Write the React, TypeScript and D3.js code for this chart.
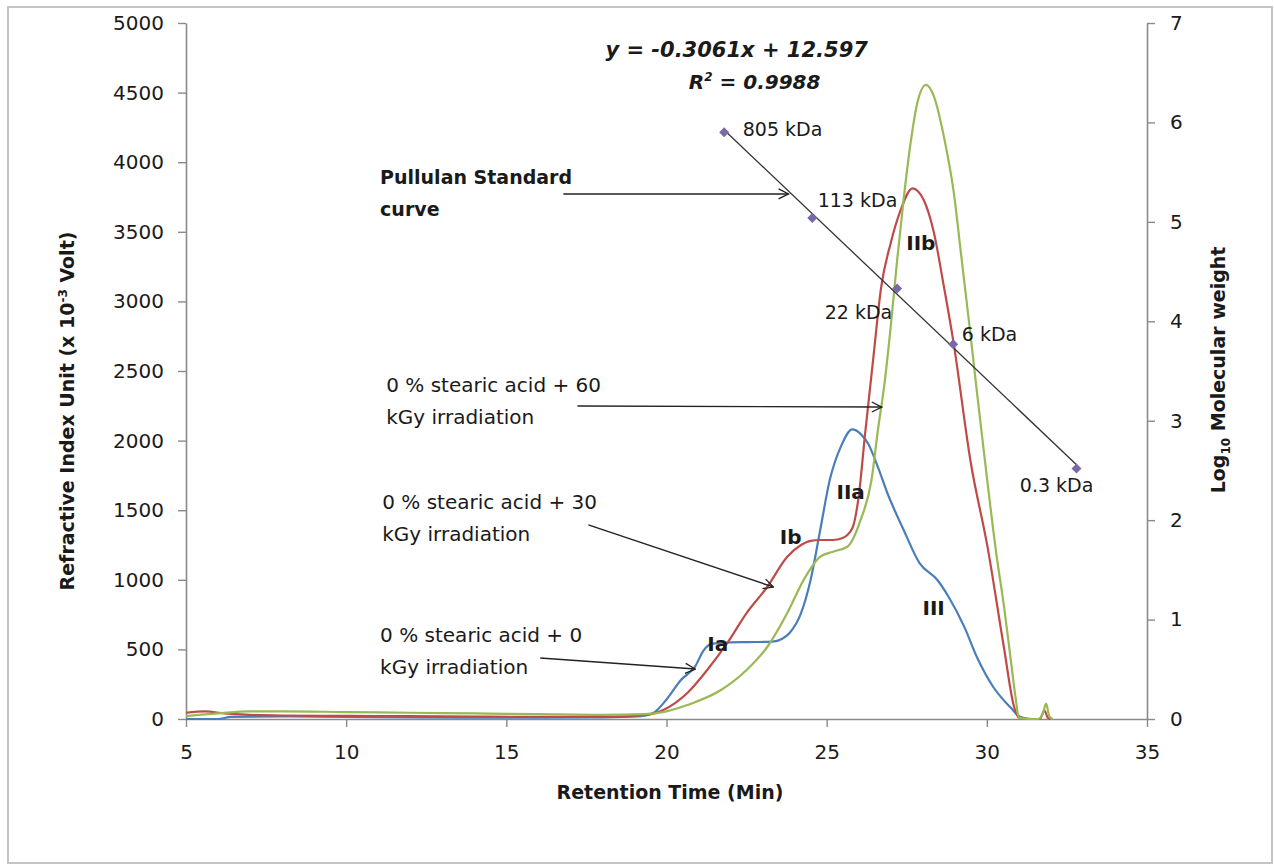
import { useEffect, useRef } from 'react'
import * as d3 from 'd3'

const W = 1274, H = 865
const PLOT = { left: 186, right: 1147, top: 23, bottom: 719 }
const FONT = "'DejaVu Sans', 'Liberation Sans', sans-serif"

const X_TICKS = [5, 10, 15, 20, 25, 30, 35]
const RI_TICKS = [0, 500, 1000, 1500, 2000, 2500, 3000, 3500, 4000, 4500, 5000]
const LOG_TICKS = [0, 1, 2, 3, 4, 5, 6, 7]

// retention time (min) / RI response (x 10^-3 V)
const T_0KGY = [5, 6, 6.4, 8, 10, 12, 14, 16, 18, 19.2, 19.6, 20.0, 20.45, 20.9, 21.15, 21.4, 21.8, 22.3, 22.8, 23.3, 23.6, 23.85, 24.2, 24.5, 24.8, 25.1, 25.45, 25.8, 26.05, 26.3, 26.6, 26.9, 27.4, 27.9, 28.45, 28.8, 29.3, 29.7, 30.2, 30.75, 31.0, 31.2, 31.45]
const RI_0KGY = [0, 0, 15, 18, 15, 12, 10, 10, 12, 20, 45, 140, 280, 380, 490, 540, 548, 552, 553, 556, 575, 620, 760, 1000, 1360, 1720, 1960, 2080, 2050, 1975, 1810, 1620, 1360, 1120, 1000, 880, 660, 440, 230, 80, 20, 5, 0]

const T_30KGY = [5, 5.6, 6.2, 7, 8, 10, 12, 14, 16, 18, 19.2, 19.9, 20.65, 21.27, 21.9, 22.5, 23.15, 23.77, 24.2, 24.5, 24.8, 25.2, 25.5, 25.8, 26.0, 26.2, 26.45, 26.7, 27.0, 27.3, 27.68, 28.03, 28.35, 28.66, 28.95, 29.5, 30.02, 30.53, 30.85, 31.0, 31.3, 31.65, 31.8, 31.9, 32.0]
const RI_30KGY = [45, 55, 40, 30, 25, 22, 20, 18, 15, 15, 25, 65, 187, 352, 546, 761, 950, 1166, 1250, 1280, 1286, 1286, 1300, 1370, 1600, 2050, 2580, 3100, 3420, 3650, 3812, 3728, 3491, 3106, 2720, 1839, 1238, 519, 88, 10, 0, 0, 60, 10, 0]

const T_60KGY = [5, 6, 7, 8, 10, 12, 14, 16, 18, 19.3, 20, 20.65, 21.7, 22.5, 23.15, 23.77, 24.28, 24.8, 25.2, 25.65, 26.06, 26.4, 26.6, 26.8, 27.0, 27.2, 27.4, 27.62, 27.83, 28.1, 28.35, 28.66, 28.97, 29.2, 29.45, 29.7, 30.0, 30.3, 30.53, 30.75, 30.9, 31.0, 31.3, 31.6, 31.75, 31.85, 31.95, 32.05]
const RI_60KGY = [20, 40, 55, 55, 50, 45, 40, 35, 30, 35, 55, 100, 208, 352, 519, 761, 998, 1166, 1202, 1238, 1430, 1717, 2076, 2400, 2818, 3297, 3728, 4138, 4425, 4555, 4471, 4183, 3779, 3330, 2840, 2330, 1740, 1180, 820, 420, 150, 10, 0, 0, 40, 110, 20, 0]

// pullulan standards: retention time vs log10 MW
const STD_TIME = [21.8, 24.55, 27.2, 28.95, 32.8]
const STD_LOGMW = [5.9, 5.04, 4.33, 3.77, 2.52]
const STD_LABELS = ['805 kDa', '113 kDa', '22 kDa', '6 kDa', '0.3 kDa']
const FIT_SLOPE = -0.3061, FIT_INTERCEPT = 12.597

const SERIES = [
  { t: T_0KGY, ri: RI_0KGY, color: '#4a7ebb' },
  { t: T_30KGY, ri: RI_30KGY, color: '#be4b48' },
  { t: T_60KGY, ri: RI_60KGY, color: '#98b954' },
]

// annotation anchors in data units (min, RI)
const STD_LABEL_POS = [[22.38, 4190], [24.72, 3680], [24.94, 2875], [29.22, 2715], [31.03, 1630]]
const PEAK_LABELS = [
  { text: 'Ia', t: 21.6, ri: 539 },
  { text: 'Ib', t: 23.875, ri: 1307 },
  { text: 'IIa', t: 25.75, ri: 1631 },
  { text: 'IIb', t: 27.94, ri: 3420 },
  { text: 'III', t: 28.34, ri: 797 },
]
const CALLOUTS = [
  { lines: ['Pullulan Standard', 'curve'], bold: true, t: 11.06, ri: 3843, from: [16.78, 3772], to: [23.81, 3772] },
  { lines: ['0 % stearic acid + 60', 'kGy irradiation'], bold: false, t: 11.25, ri: 2349, from: [17.22, 2249], to: [26.72, 2241] },
  { lines: ['0 % stearic acid + 30', 'kGy irradiation'], bold: false, t: 11.125, ri: 1509, from: [17.56, 1394], to: [23.34, 948] },
  { lines: ['0 % stearic acid + 0', 'kGy irradiation'], bold: false, t: 11.06, ri: 553, from: [16.06, 438], to: [20.9, 359] },
]

export default function App() {
  const svgRef = useRef<SVGSVGElement>(null)

  useEffect(() => {
    const x = d3.scaleLinear([5, 35], [PLOT.left, PLOT.right])
    const y = d3.scaleLinear([0, 5000], [PLOT.bottom, PLOT.top])
    const y2 = d3.scaleLinear([0, 7], [PLOT.bottom, PLOT.top])

    const svg = d3.select(svgRef.current)
    svg.selectAll('*').remove()

    svg.append('rect').attr('x', 0).attr('y', 0).attr('width', W).attr('height', H).attr('fill', '#fff')
    svg.append('rect').attr('x', 8).attr('y', 7).attr('width', 1264).attr('height', 856)
      .attr('fill', 'none').attr('stroke', '#c4c4c4').attr('stroke-width', 2)

    svg.append('defs').append('marker')
      .attr('id', 'arrow').attr('viewBox', '0 0 12 12').attr('refX', 11).attr('refY', 6)
      .attr('markerWidth', 12).attr('markerHeight', 12).attr('markerUnits', 'userSpaceOnUse')
      .attr('orient', 'auto')
      .append('path').attr('d', 'M1,1 L11,6 L1,11').attr('fill', 'none').attr('stroke', '#222').attr('stroke-width', 1.3)

    const styleAxis = (g: any) => {
      g.select('.domain').attr('stroke', '#8a8a8a').attr('stroke-width', 1.6)
      g.selectAll('.tick line').attr('stroke', '#8a8a8a').attr('stroke-width', 1.4)
      g.selectAll('.tick text').attr('fill', '#1a1a1a').attr('font-size', 20).attr('font-family', FONT)
    }
    const fmt = d3.format('d')

    svg.append('g').attr('transform', `translate(${PLOT.left},0)`)
      .call(d3.axisLeft(y).tickValues(RI_TICKS).tickFormat(fmt).tickSize(8).tickSizeOuter(0).tickPadding(14))
      .call(styleAxis)
    svg.append('g').attr('transform', `translate(${PLOT.right},0)`)
      .call(d3.axisRight(y2).tickValues(LOG_TICKS).tickFormat(fmt).tickSize(8).tickSizeOuter(0).tickPadding(15))
      .call(styleAxis)
    svg.append('g').attr('transform', `translate(0,${PLOT.bottom})`)
      .call(d3.axisBottom(x).tickValues(X_TICKS).tickFormat(fmt).tickSize(8).tickSizeOuter(0).tickPadding(18))
      .call(styleAxis)

    // axis titles
    const lt = svg.append('text').attr('transform', 'translate(74,411) rotate(-90)')
      .attr('text-anchor', 'middle').attr('font-family', FONT).attr('font-weight', 'bold').attr('font-size', 19).attr('fill', '#1a1a1a')
    lt.append('tspan').text('Refractive Index Unit (x 10')
    lt.append('tspan').attr('dy', -7).attr('font-size', 12).text('-3')
    lt.append('tspan').attr('dy', 7).text(' Volt)')

    const rt = svg.append('text').attr('transform', 'translate(1225,370) rotate(-90)')
      .attr('text-anchor', 'middle').attr('font-family', FONT).attr('font-weight', 'bold').attr('font-size', 19).attr('fill', '#1a1a1a')
    rt.append('tspan').text('Log')
    rt.append('tspan').attr('dy', 5).attr('font-size', 12).text('10')
    rt.append('tspan').attr('dy', -5).text(' Molecular weight')

    svg.append('text').attr('x', 670).attr('y', 799).attr('text-anchor', 'middle')
      .attr('font-family', FONT).attr('font-weight', 'bold').attr('font-size', 19).attr('fill', '#1a1a1a')
      .text('Retention Time (Min)')

    // chromatograms
    const line = d3.line<number>().curve(d3.curveMonotoneX)
    SERIES.forEach(s => {
      svg.append('path')
        .datum(d3.range(s.t.length))
        .attr('d', line.x(i => x(s.t[i])).y(i => y(s.ri[i])))
        .attr('fill', 'none').attr('stroke', s.color).attr('stroke-width', 2.2)
        .attr('stroke-linejoin', 'round')
    })

    // standard curve trendline + points
    const t0 = d3.min(STD_TIME)!, t1 = d3.max(STD_TIME)!
    svg.append('line')
      .attr('x1', x(t0)).attr('y1', y2(FIT_SLOPE * t0 + FIT_INTERCEPT))
      .attr('x2', x(t1)).attr('y2', y2(FIT_SLOPE * t1 + FIT_INTERCEPT))
      .attr('stroke', '#333').attr('stroke-width', 1.3)

    svg.selectAll('path.std')
      .data(STD_TIME)
      .join('path')
      .attr('class', 'std')
      .attr('d', d3.symbol(d3.symbolSquare, 50)())
      .attr('transform', (t, i) => `translate(${x(t)},${y2(STD_LOGMW[i])}) rotate(45)`)
      .attr('fill', '#7b68a8')

    svg.selectAll('text.stdlab')
      .data(STD_LABELS)
      .join('text')
      .attr('class', 'stdlab')
      .attr('x', (_, i) => x(STD_LABEL_POS[i][0]))
      .attr('y', (_, i) => y(STD_LABEL_POS[i][1]))
      .attr('font-family', FONT).attr('font-size', 19).attr('fill', '#1a1a1a')
      .text(d => d)

    // regression equation
    svg.append('text').attr('x', x(22.19)).attr('y', 57).attr('text-anchor', 'middle')
      .attr('font-family', FONT).attr('font-weight', 'bold').attr('font-style', 'italic')
      .attr('font-size', 21).attr('fill', '#1a1a1a').text('y = -0.3061x + 12.597')
    const r2 = svg.append('text').attr('x', x(22.75)).attr('y', 89).attr('text-anchor', 'middle')
      .attr('font-family', FONT).attr('font-weight', 'bold').attr('font-style', 'italic')
      .attr('font-size', 20).attr('fill', '#1a1a1a')
    r2.append('tspan').text('R')
    r2.append('tspan').attr('dy', -8).attr('font-size', 12).text('2')
    r2.append('tspan').attr('dy', 8).text(' = 0.9988')

    // peak labels
    PEAK_LABELS.forEach(p => {
      svg.append('text').attr('x', x(p.t)).attr('y', y(p.ri) + 7).attr('text-anchor', 'middle')
        .attr('font-family', FONT).attr('font-weight', 'bold').attr('font-size', 20).attr('fill', '#1a1a1a')
        .text(p.text)
    })

    // callouts with arrows
    CALLOUTS.forEach(c => {
      const tx = svg.append('text').attr('x', x(c.t)).attr('y', y(c.ri))
        .attr('font-family', FONT).attr('font-size', c.bold ? 19 : 20)
        .attr('font-weight', c.bold ? 'bold' : 'normal').attr('fill', '#1a1a1a')
      c.lines.forEach((l, i) => tx.append('tspan').attr('x', x(c.t)).attr('dy', i ? 32 : 0).text(l))
      svg.append('line')
        .attr('x1', x(c.from[0])).attr('y1', y(c.from[1]))
        .attr('x2', x(c.to[0])).attr('y2', y(c.to[1]))
        .attr('stroke', '#222').attr('stroke-width', 1.4).attr('marker-end', 'url(#arrow)')
    })
  }, [])

  return (
    <svg ref={svgRef} width={W} height={H} viewBox={`0 0 ${W} ${H}`}
      style={{ position: 'absolute', left: 0, top: 0, display: 'block' }} />
  )
}
